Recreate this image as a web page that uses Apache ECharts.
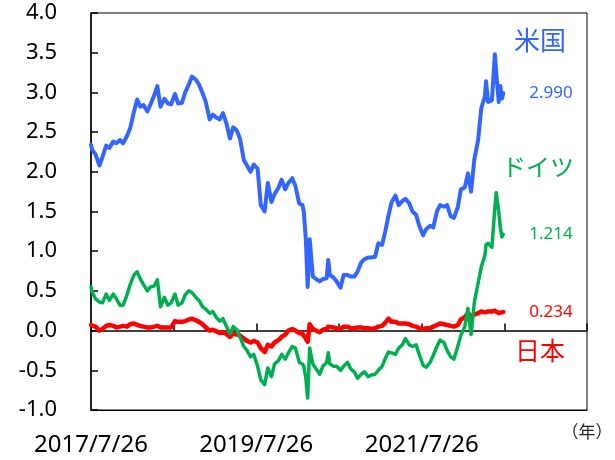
<!DOCTYPE html>
<html>
<head>
<meta charset="utf-8">
<script src="https://cdn.jsdelivr.net/npm/echarts@6/dist/echarts.min.js"></script>
<style>
  html, body { margin: 0; padding: 0; background: #fff; }
  #chart { width: 615px; height: 460px; }
</style>
</head>
<body>
<div id="chart"></div>
<script>
// sample dates (semi-monthly, plus a few extra around sharp moves)
const dates = [
  '2017-07-26','2017-08-01','2017-08-15','2017-09-01','2017-09-15','2017-10-01','2017-10-15','2017-11-01','2017-11-15','2017-12-01','2017-12-15',
  '2018-01-01','2018-01-15','2018-02-01','2018-02-15','2018-03-01','2018-03-15','2018-04-01','2018-04-15','2018-05-01','2018-05-15','2018-05-29','2018-06-15',
  '2018-07-01','2018-07-15','2018-08-01','2018-08-15','2018-09-01','2018-09-15','2018-10-01','2018-10-15','2018-11-01','2018-11-15','2018-12-01','2018-12-15',
  '2019-01-01','2019-01-15','2019-02-01','2019-02-15','2019-03-01','2019-03-15','2019-04-01','2019-04-15','2019-05-01','2019-05-15','2019-06-01','2019-06-15',
  '2019-07-01','2019-07-15','2019-08-01','2019-08-15','2019-09-01','2019-09-15','2019-10-01','2019-10-15','2019-11-01','2019-11-15','2019-12-01','2019-12-15',
  '2020-01-01','2020-01-15','2020-02-01','2020-02-15','2020-02-21','2020-03-01','2020-03-09','2020-03-18','2020-04-01','2020-04-15','2020-05-01','2020-05-15',
  '2020-06-01','2020-06-08','2020-06-15','2020-07-01','2020-07-15','2020-08-01','2020-08-15','2020-09-01','2020-09-15','2020-10-01','2020-10-15','2020-11-01',
  '2020-11-15','2020-12-01','2020-12-15',
  '2021-01-01','2021-01-15','2021-02-01','2021-02-15','2021-03-01','2021-03-15','2021-04-01','2021-04-15','2021-05-01','2021-05-15','2021-06-01','2021-06-15',
  '2021-07-01','2021-07-15','2021-08-01','2021-08-15','2021-09-01','2021-09-15','2021-10-01','2021-10-15','2021-11-01','2021-11-15','2021-12-01','2021-12-15',
  '2022-01-01','2022-01-15','2022-02-01','2022-02-15','2022-03-01','2022-03-15','2022-04-01','2022-04-15','2022-05-01','2022-05-06','2022-05-15','2022-06-01',
  '2022-06-14','2022-06-20','2022-07-01','2022-07-08','2022-07-15','2022-07-21'
];

// 米国 (%)
const usYield = [
  2.34, 2.27, 2.22, 2.08, 2.19, 2.33, 2.30, 2.38, 2.36, 2.40, 2.36,
  2.45, 2.55, 2.76, 2.91, 2.82, 2.84, 2.76, 2.85, 2.96, 3.08, 2.82, 2.92,
  2.86, 2.85, 2.98, 2.86, 2.87, 3.00, 3.10, 3.20, 3.16, 3.10, 2.99, 2.88,
  2.66, 2.72, 2.68, 2.66, 2.74, 2.62, 2.42, 2.56, 2.52, 2.42, 2.15, 2.08,
  2.00, 2.09, 2.04, 1.58, 1.50, 1.86, 1.62, 1.72, 1.80, 1.90, 1.78, 1.86,
  1.92, 1.82, 1.60, 1.58, 1.50, 1.15, 0.55, 1.15, 0.68, 0.65, 0.62, 0.65,
  0.66, 0.89, 0.70, 0.67, 0.62, 0.54, 0.70, 0.70, 0.68, 0.68, 0.74, 0.86,
  0.90, 0.92, 0.92,
  0.93, 1.10, 1.08, 1.25, 1.45, 1.62, 1.70, 1.58, 1.63, 1.66, 1.60, 1.50,
  1.46, 1.32, 1.20, 1.28, 1.32, 1.30, 1.50, 1.58, 1.56, 1.58, 1.44, 1.42,
  1.55, 1.78, 1.80, 1.98, 1.75, 2.15, 2.40, 2.80, 2.95, 3.14, 2.88, 2.90,
  3.48, 3.25, 2.88, 3.08, 2.92, 2.99
];

// ドイツ (%)
const deYield = [
  0.55, 0.48, 0.40, 0.36, 0.35, 0.46, 0.38, 0.46, 0.40, 0.32, 0.32,
  0.45, 0.58, 0.70, 0.74, 0.65, 0.58, 0.50, 0.55, 0.56, 0.64, 0.30, 0.42,
  0.32, 0.35, 0.46, 0.32, 0.35, 0.45, 0.50, 0.48, 0.42, 0.38, 0.30, 0.27,
  0.22, 0.24, 0.16, 0.12, 0.15, 0.06, -0.04, 0.05, 0.01, -0.08, -0.20, -0.25,
  -0.33, -0.30, -0.45, -0.62, -0.68, -0.47, -0.58, -0.42, -0.38, -0.30, -0.36, -0.28,
  -0.20, -0.22, -0.40, -0.42, -0.45, -0.60, -0.85, -0.22, -0.42, -0.48, -0.55, -0.45,
  -0.40, -0.28, -0.42, -0.45, -0.45, -0.50, -0.45, -0.40, -0.48, -0.52, -0.60, -0.55,
  -0.52, -0.58, -0.56,
  -0.55, -0.50, -0.45, -0.35, -0.27, -0.28, -0.30, -0.22, -0.18, -0.10, -0.18, -0.20,
  -0.18, -0.30, -0.44, -0.46, -0.40, -0.31, -0.20, -0.12, -0.15, -0.25, -0.33, -0.36,
  -0.20, -0.06, 0.05, 0.28, -0.05, 0.35, 0.60, 0.80, 0.95, 1.08, 1.10, 1.05,
  1.55, 1.74, 1.50, 1.30, 1.18, 1.214
];

// 日本 (%)
const jpYield = [
  0.07, 0.07, 0.05, 0.00, 0.02, 0.06, 0.07, 0.06, 0.04, 0.05, 0.06,
  0.05, 0.08, 0.09, 0.07, 0.06, 0.05, 0.04, 0.04, 0.05, 0.06, 0.04, 0.04,
  0.04, 0.04, 0.12, 0.11, 0.11, 0.12, 0.14, 0.15, 0.13, 0.11, 0.08, 0.04,
  0.00, 0.01, -0.01, -0.03, -0.02, -0.04, -0.08, -0.04, -0.05, -0.06, -0.10, -0.13,
  -0.15, -0.13, -0.15, -0.22, -0.27, -0.18, -0.20, -0.15, -0.12, -0.08, -0.05, 0.00,
  0.02, 0.00, -0.03, -0.04, -0.06, -0.10, -0.14, 0.08, 0.02, 0.00, -0.02, 0.01,
  0.02, 0.05, 0.03, 0.04, 0.03, 0.02, 0.05, 0.05, 0.03, 0.03, 0.04, 0.04,
  0.03, 0.03, 0.02,
  0.03, 0.05, 0.06, 0.10, 0.15, 0.11, 0.11, 0.09, 0.09, 0.09, 0.08, 0.06,
  0.05, 0.03, 0.02, 0.03, 0.03, 0.05, 0.07, 0.09, 0.08, 0.07, 0.06, 0.05,
  0.07, 0.14, 0.17, 0.22, 0.18, 0.20, 0.22, 0.24, 0.23, 0.24, 0.24, 0.24,
  0.25, 0.24, 0.22, 0.24, 0.23, 0.234
];

const tickDates = ['2017-07-26', '2018-07-26', '2019-07-26', '2020-07-26', '2021-07-26', '2022-07-26', '2023-07-26'];
const labelDates = ['2017-07-26', '2019-07-26', '2021-07-26'];

const US_COLOR = '#3366ff';
const DE_COLOR = '#00b050';
const JP_COLOR = '#ff0000';
const FONT = '"Noto Sans", "Noto Sans CJK JP", sans-serif';
const CJK = '"Noto Sans CJK JP", "Noto Sans", sans-serif';

const ts = s => new Date(s).getTime();
const toPairs = vals => dates.map((d, i) => [ts(d), vals[i]]);
const fmtDate = v => {
  const d = new Date(v);
  return d.getUTCFullYear() + '/' + (d.getUTCMonth() + 1) + '/' + d.getUTCDate();
};

const chart = echarts.init(document.getElementById('chart'));

function lineSeries(name, vals, color, width) {
  return {
    name: name,
    type: 'line',
    xAxisIndex: 0,
    data: toPairs(vals),
    showSymbol: false,
    symbol: 'none',
    lineStyle: { color: color, width: width, join: 'round', cap: 'round' },
    itemStyle: { color: color },
    endLabel: {
      show: true,
      formatter: p => p.value[1].toFixed(3),
      color: color,
      fontSize: 17,
      fontFamily: FONT,
      distance: 26
    }
  };
}

const option = {
  animation: false,
  backgroundColor: '#fff',
  grid: {
    left: 91, right: 28, top: 13, bottom: 50,
    outerBoundsMode: 'none',
    containLabel: false,
    show: true, borderColor: '#000', borderWidth: 1
  },
  xAxis: [
    {
      type: 'value',
      position: 'bottom',
      min: ts('2017-07-26'),
      max: ts('2023-07-26'),
      axisLine: { onZero: false, lineStyle: { color: '#000', width: 1 } },
      axisTick: { show: false },
      splitLine: { show: false },
      axisLabel: {
        customValues: labelDates.map(ts),
        formatter: fmtDate,
        fontSize: 24,
        color: '#000',
        fontFamily: FONT,
        margin: 23
      }
    },
    {
      type: 'value',
      position: 'top',
      min: ts('2017-07-26'),
      max: ts('2023-07-26'),
      axisLine: { onZero: true, onZeroAxisIndex: 0, lineStyle: { color: '#000', width: 1.5 } },
      axisTick: {
        show: true,
        customValues: tickDates.map(ts),
        inside: false,
        length: 7,
        lineStyle: { color: '#000', width: 1.5 }
      },
      axisLabel: { show: false },
      splitLine: { show: false }
    }
  ],
  yAxis: {
    type: 'value',
    min: -1,
    max: 4,
    interval: 0.5,
    name: '（%）',
    nameLocation: 'end',
    nameGap: 18,
    nameTextStyle: { fontSize: 20, color: '#000', fontFamily: CJK, padding: [0, 14, 0, 0] },
    axisLine: { onZero: false, lineStyle: { color: '#000', width: 1.5 } },
    axisTick: { show: true, inside: true, length: 7, lineStyle: { color: '#000', width: 1.5 } },
    splitLine: { show: false },
    axisLabel: {
      formatter: v => v.toFixed(1),
      fontSize: 22,
      color: '#000',
      fontFamily: FONT,
      margin: 34
    }
  },
  series: [
    lineSeries('日本', jpYield, JP_COLOR, 4.5),
    lineSeries('ドイツ', deYield, DE_COLOR, 3.5),
    lineSeries('米国', usYield, US_COLOR, 4)
  ],
  graphic: [
    { type: 'text', x: 540, y: 40, style: { text: '米国', fill: US_COLOR, fontSize: 26, fontFamily: CJK, align: 'center', verticalAlign: 'middle' } },
    { type: 'text', x: 538, y: 167, style: { text: 'ドイツ', fill: DE_COLOR, fontSize: 24, fontFamily: CJK, align: 'center', verticalAlign: 'middle' } },
    { type: 'text', x: 540, y: 350, style: { text: '日本', fill: JP_COLOR, fontSize: 25, fontFamily: CJK, align: 'center', verticalAlign: 'middle' } },
    { type: 'text', x: 587, y: 432, style: { text: '（年）', fill: '#222', fontSize: 17, fontFamily: CJK, align: 'center', verticalAlign: 'middle' } }
  ]
};

chart.setOption(option);
</script>
</body>
</html>
